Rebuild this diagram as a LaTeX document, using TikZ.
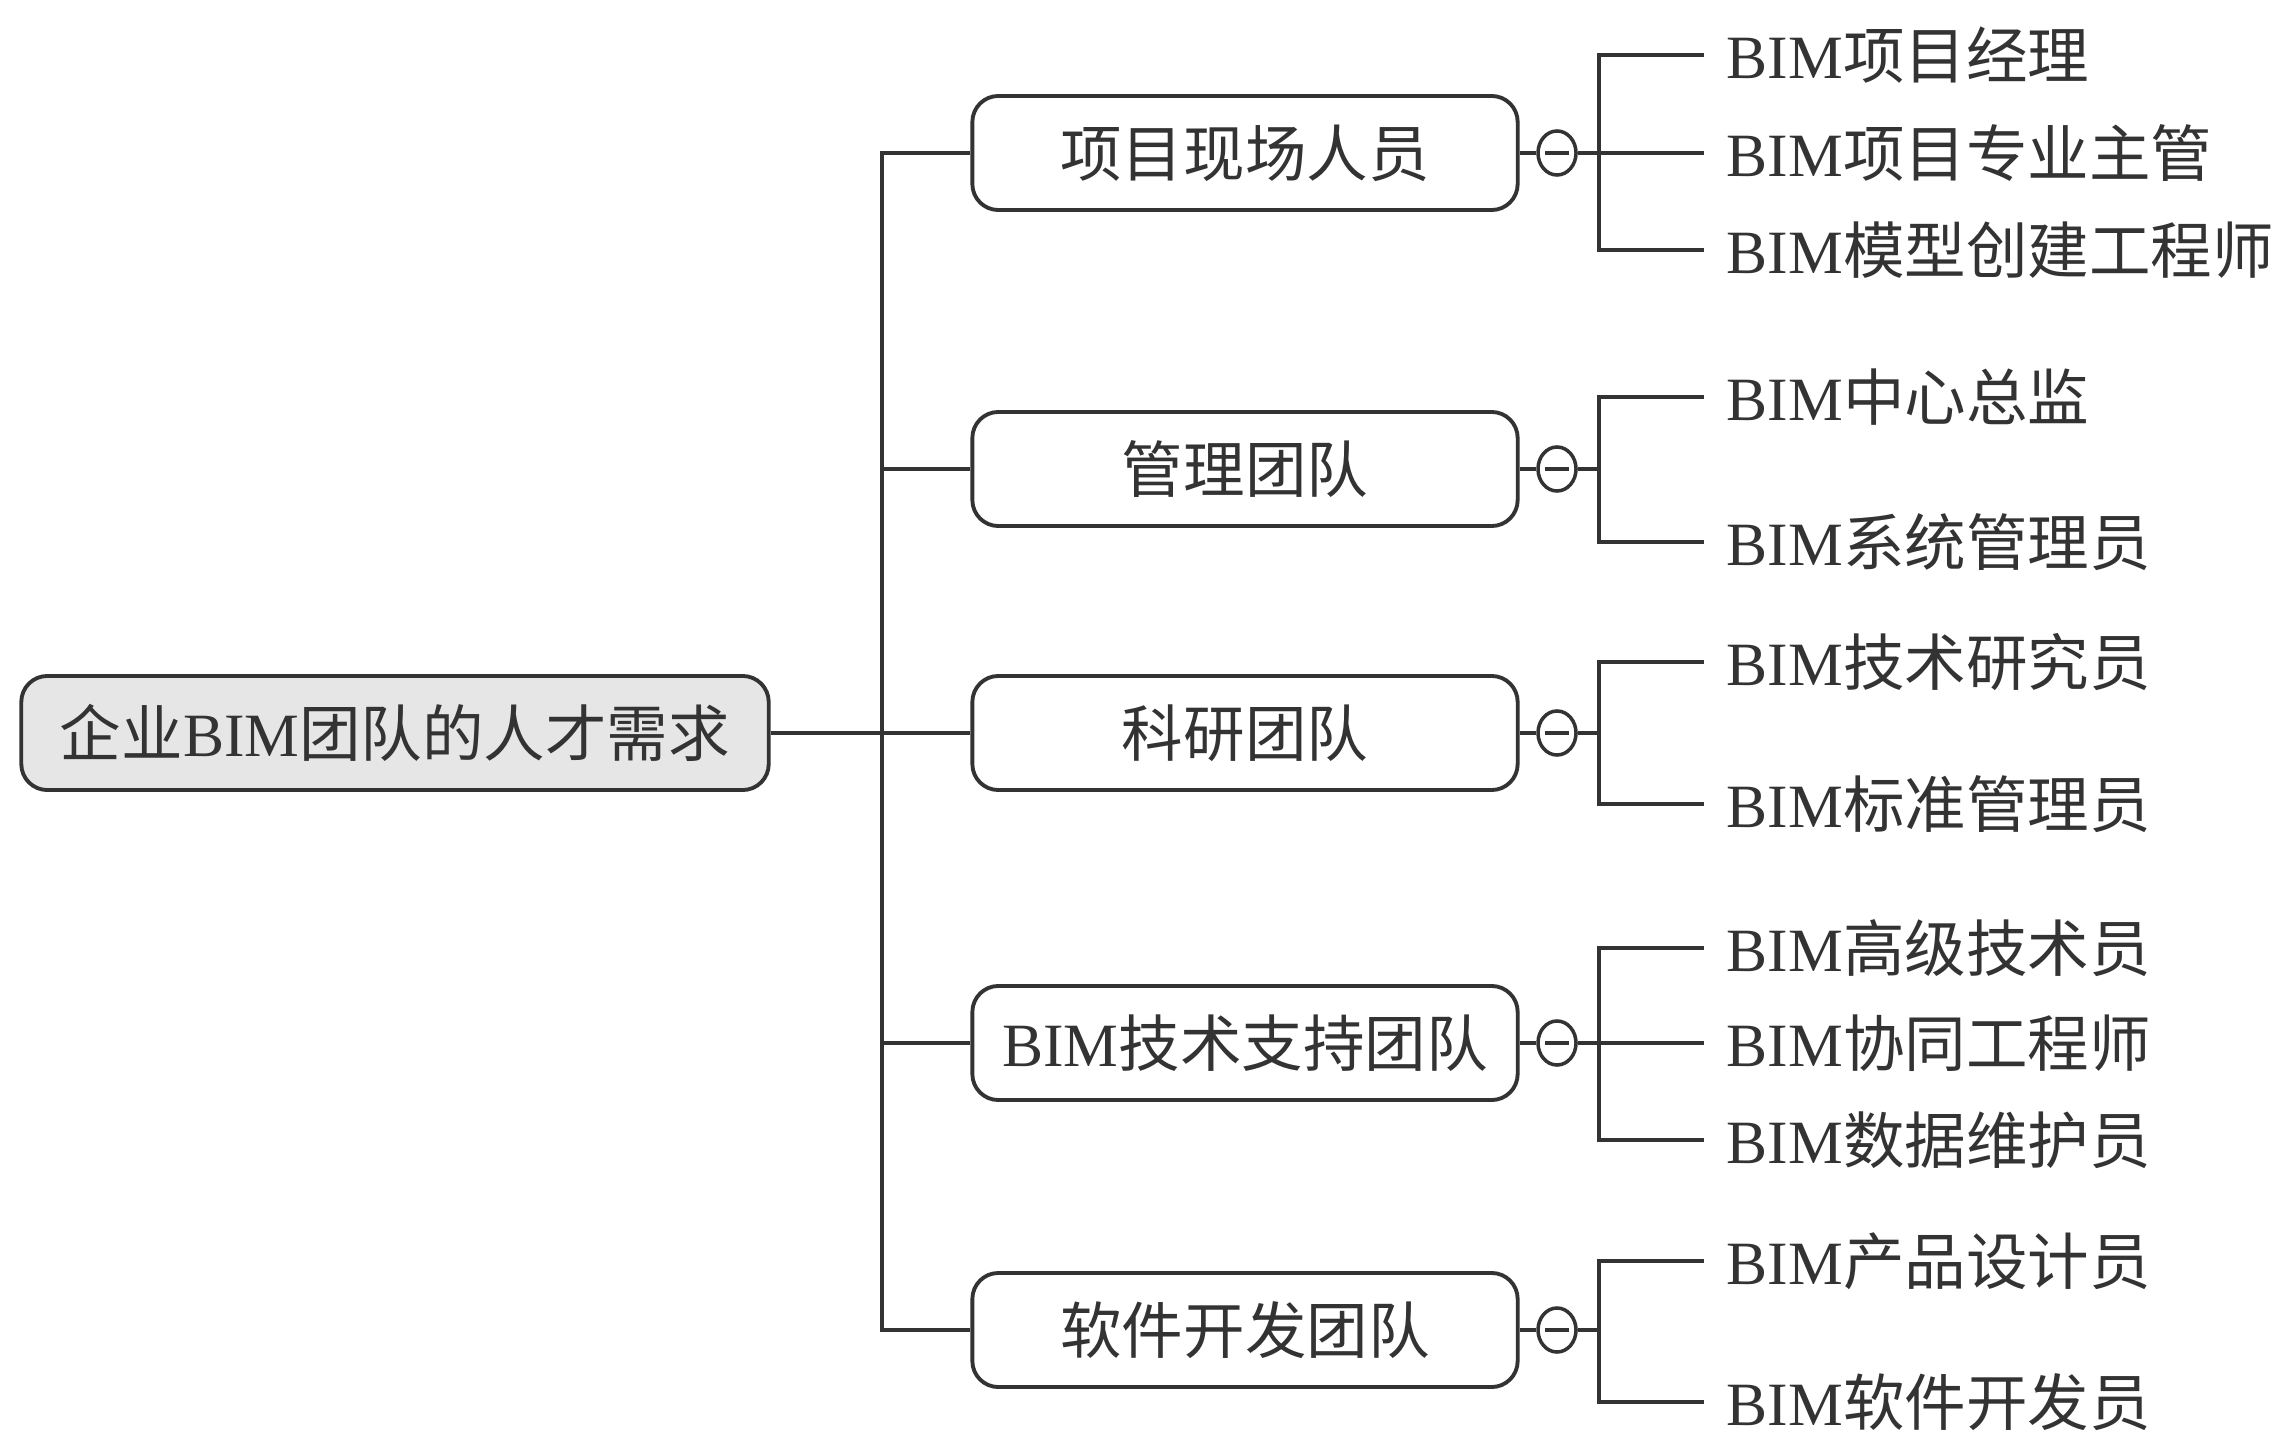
\documentclass[tikz,border=0pt]{standalone}
\usepackage{fontspec}
\setmainfont{Liberation Serif}
\newfontfamily\cjkfont{Noto Sans CJK SC}
\newcommand\cj[1]{{\cjkfont #1}}
\usetikzlibrary{shapes.geometric}
\definecolor{ink}{HTML}{333333}
\definecolor{rootfill}{HTML}{E6E6E6}
\tikzset{
  conn/.style={draw=ink, line width=1pt},
  boxnode/.style={draw=ink, line width=1.1pt, rounded corners=0.26cm, fill=white,
    minimum width=5.45cm, minimum height=1.14cm, inner sep=0pt, text=ink,
    font=\fontsize{17.5}{20}\selectfont},
  rootnode/.style={boxnode, fill=rootfill, minimum width=7.47cm},
  foldnode/.style={draw=ink, line width=1pt, ellipse, fill=white, minimum width=0.38cm,
    minimum height=0.44cm, inner sep=0pt,
    path picture={\draw[ink, line width=1pt] ([xshift=-0.12cm]path picture bounding box.center) -- ([xshift=0.12cm]path picture bounding box.center);}},
  leafnode/.style={anchor=west, inner xsep=0.22cm, inner ysep=0pt, text=ink,
    font=\fontsize{17.5}{20}\selectfont}
}
\begin{document}
\begin{tikzpicture}[x=0.01cm, y=-0.01cm]
\useasboundingbox (0,0) rectangle (2283,1434);

\node[rootnode] (root) at (395,733) {\cj{企业}BIM\cj{团队的人才需求}};
\coordinate (trunk) at (882,733);

\node[boxnode] (c1) at (1245,153) {\cj{项目现场人员}};
\node[boxnode] (c2) at (1245,469) {\cj{管理团队}};
\node[boxnode] (c3) at (1245,733) {\cj{科研团队}};
\node[boxnode] (c4) at (1245,1043) {BIM\cj{技术支持团队}};
\node[boxnode] (c5) at (1245,1330) {\cj{软件开发团队}};

\draw[conn] (root.east) -- (trunk);
\foreach \c in {c1,c2,c3,c4,c5} \draw[conn] (trunk) |- (\c.west);

% fold circles
\node[foldnode] (f1) at (1557,153) {};
\node[foldnode] (f2) at (1557,469) {};
\node[foldnode] (f3) at (1557,733) {};
\node[foldnode] (f4) at (1557,1043) {};
\node[foldnode] (f5) at (1557,1330) {};
\foreach \i in {1,...,5} \draw[conn] (c\i.east) -- (f\i.west);

\coordinate (b1) at (1599,153);
\coordinate (b2) at (1599,469);
\coordinate (b3) at (1599,733);
\coordinate (b4) at (1599,1043);
\coordinate (b5) at (1599,1330);
\foreach \i in {1,...,5} \draw[conn] (f\i.east) -- (b\i);

% leaves
\node[leafnode] (l11) at (1704,55) {BIM\cj{项目经理}};
\node[leafnode] (l12) at (1704,153) {BIM\cj{项目专业主管}};
\node[leafnode] (l13) at (1704,250) {BIM\cj{模型创建工程师}};
\node[leafnode] (l21) at (1704,397) {BIM\cj{中心总监}};
\node[leafnode] (l22) at (1704,542) {BIM\cj{系统管理员}};
\node[leafnode] (l31) at (1704,662) {BIM\cj{技术研究员}};
\node[leafnode] (l32) at (1704,804) {BIM\cj{标准管理员}};
\node[leafnode] (l41) at (1704,948) {BIM\cj{高级技术员}};
\node[leafnode] (l42) at (1704,1043) {BIM\cj{协同工程师}};
\node[leafnode] (l43) at (1704,1140) {BIM\cj{数据维护员}};
\node[leafnode] (l51) at (1704,1261) {BIM\cj{产品设计员}};
\node[leafnode] (l52) at (1704,1402) {BIM\cj{软件开发员}};

\foreach \l in {l11,l12,l13} \draw[conn] (b1) |- (\l.west);
\foreach \l in {l21,l22} \draw[conn] (b2) |- (\l.west);
\foreach \l in {l31,l32} \draw[conn] (b3) |- (\l.west);
\foreach \l in {l41,l42,l43} \draw[conn] (b4) |- (\l.west);
\foreach \l in {l51,l52} \draw[conn] (b5) |- (\l.west);
\end{tikzpicture}
\end{document}
